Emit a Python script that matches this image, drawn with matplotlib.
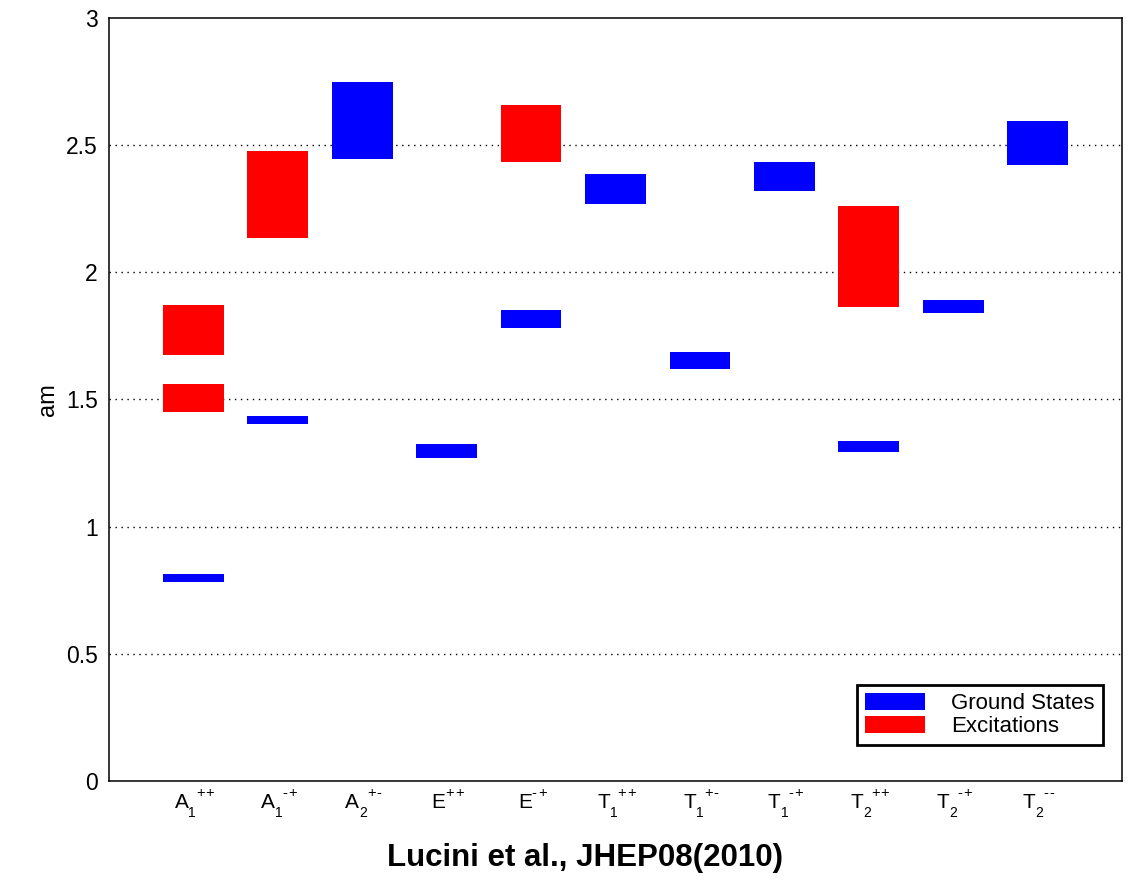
import numpy as np
import matplotlib.pyplot as plt
from matplotlib.patches import Patch

plt.rcParams['font.family'] = ['Liberation Sans', 'DejaVu Sans']

# channels (tick labels): base letter, subscript, superscript
label_base = ['A', 'A', 'A', 'E', 'E', 'T', 'T', 'T', 'T', 'T', 'T']
label_sub = ['1', '1', '2', '', '', '1', '1', '1', '2', '2', '2']
label_sup = ['++', '-+', '+-', '++', '-+', '++', '+-', '-+', '++', '-+', '--']

# ground states: lower / upper edge of each band
ground_lo = [0.784, 1.403, 2.444, 1.268, 1.779, 2.269, 1.618, 2.321, 1.293, 1.839, 2.423]
ground_hi = [0.814, 1.435, 2.747, 1.323, 1.852, 2.387, 1.686, 2.434, 1.337, 1.892, 2.596]

# excitations: channel index, lower / upper edge
exc_chan = [0, 0, 1, 4, 8]
exc_lo = [1.452, 1.673, 2.134, 2.434, 1.865]
exc_hi = [1.559, 1.872, 2.478, 2.658, 2.262]

fig = plt.figure(figsize=(11.37, 8.8), dpi=100)
ax = fig.add_axes([0.0959, 0.1125, 0.8909, 0.8673])

x = np.arange(1, len(label_base) + 1)
w = 0.72
ax.bar(x, np.array(ground_hi) - np.array(ground_lo), bottom=ground_lo,
       width=w, color='blue', zorder=3)
xe = x[exc_chan]
ax.bar(xe, np.array(exc_hi) - np.array(exc_lo), bottom=exc_lo,
       width=w, color='red', zorder=3)

ax.set_xlim(0, 12)
ax.set_ylim(0, 3)
ax.set_xticks(x)
ax.set_xticklabels([])
ax.set_yticks([0, 0.5, 1, 1.5, 2, 2.5, 3])
ax.set_yticklabels(['0', '0.5', '1', '1.5', '2', '2.5', '3'], fontsize=16.5)
ax.tick_params(axis='both', length=0)
ax.tick_params(axis='y', pad=8)
ax.set_ylabel('am', fontsize=17, labelpad=5)

# x tick labels built by hand: sub and superscript side by side
renderer = fig.canvas.get_renderer()


def width_pt(s, fs):
    if not s:
        return 0.0
    t = fig.text(0, 0, s, fontsize=fs)
    wd = t.get_window_extent(renderer).width * 72 / fig.dpi
    t.remove()
    return wd


fs_base, fs_sub, fs_sup = 15, 10, 10.5
gap = 0.8  # extra spacing between superscript signs
for xi, b, sb, sp in zip(x, label_base, label_sub, label_sup):
    wb = width_pt(b, fs_base)
    ws = width_pt(sb, fs_sub)
    wc = [width_pt(c, fs_sup) for c in sp]
    wp = sum(wc) + gap
    x0 = -(wb + ws + wp) / 2 + 0.7
    kw = dict(xy=(xi, 0), xycoords=('data', 'axes fraction'),
              textcoords='offset points', ha='left', va='baseline')
    ax.annotate(b, xytext=(x0, -19.4), fontsize=fs_base, **kw)
    if sb:
        ax.annotate(sb, xytext=(x0 + wb, -26), fontsize=fs_sub, **kw)
    xs = x0 + wb + ws
    for c, wcc in zip(sp, wc):
        ax.annotate(c, xytext=(xs, -11.3), fontsize=fs_sup, **kw)
        xs += wcc + gap

for yv in [0.5, 1, 1.5, 2, 2.5]:
    ax.axhline(yv, color='black', lw=1, linestyle=(0, (1, 3.3)), zorder=1)

for s in ax.spines.values():
    s.set_linewidth(1.1)

handles = [Patch(facecolor='blue', label='Ground States'),
           Patch(facecolor='red', label='Excitations')]
leg = ax.legend(handles=handles, loc='lower right', bbox_to_anchor=(0.981, 0.047),
                fontsize=16, fancybox=False, framealpha=1, edgecolor='black',
                handlelength=2.7, handleheight=0.75, handletextpad=1.2,
                labelspacing=0.1, borderpad=0.35, borderaxespad=0)
leg.get_frame().set_linewidth(2)

fig.text(0.5145, 0.025, 'Lucini et al., JHEP08(2010)', fontsize=22.5,
         fontweight='bold', ha='center', va='center')

fig.savefig('out.png', dpi=100)
